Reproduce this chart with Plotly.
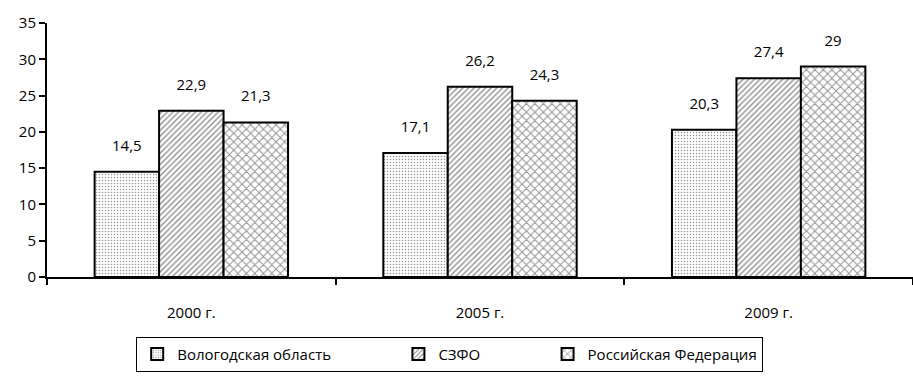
import plotly.graph_objects as go

years = ['2000 г.', '2005 г.', '2009 г.']
vologda = [14.5, 17.1, 20.3]
szfo = [22.9, 26.2, 27.4]
russia = [21.3, 24.3, 29]

series = [
    ('Вологодская область' + '\u00a0' * 16, vologda, '.', 3, 0.2),
    ('СЗФО' + '\u00a0' * 16, szfo, '/', 4, 0.35),
    ('Российская Федерация', russia, 'x', 6, 0.3),
]


def fmt(v):
    s = ('%g' % v)
    return s.replace('.', ',')


fig = go.Figure()
for i, (name, vals, shape, psize, sol) in enumerate(series):
    fig.add_trace(go.Bar(
        x=years,
        y=vals,
        name=name,
        offsetgroup=str(i),
        marker=dict(
            color='white',
            line=dict(color='black', width=2),
            pattern=dict(shape=shape, fgcolor='#222222', bgcolor='white',
                         size=psize, solidity=sol),
        ),
    ))
    # value labels
    fig.add_trace(go.Scatter(
        x=years,
        y=vals,
        offsetgroup=str(i),
        mode='markers+text',
        text=[fmt(v) for v in vals],
        textposition='top center',
        textfont=dict(size=15, color='black'),
        marker=dict(size=26, opacity=0),
        showlegend=False,
        hoverinfo='skip',
        cliponaxis=False,
    ))

fig.update_layout(
    width=913, height=392,
    margin=dict(l=47, r=0, t=23, b=115, autoexpand=False),
    barmode='group',
    scattermode='group',
    bargap=0.33,
    bargroupgap=0,
    plot_bgcolor='white',
    paper_bgcolor='white',
    font=dict(family='Open Sans, Noto Sans, sans-serif', size=15, color='black'),
    showlegend=True,
    legend=dict(
        orientation='h',
        x=0.465, xanchor='center',
        y=-0.235, yanchor='top',
        bordercolor='black', borderwidth=1,
        font=dict(size=15),
        itemwidth=30,
        traceorder='normal',
    ),
)
fig.update_yaxes(
    range=[0, 35], dtick=5,
    showline=True, linecolor='black', linewidth=2,
    ticks='outside', ticklen=6, tickcolor='black', tickwidth=2,
    showgrid=False, zeroline=False, automargin=False,
)
fig.update_xaxes(
    showline=True, linecolor='black', linewidth=2,
    ticks='outside', ticklen=6, tickcolor='black', tickwidth=2,
    tickson='boundaries', ticklabelstandoff=21,
    showgrid=False, automargin=False,
)

fig.write_html("out.html", config={'displayModeBar': False},
               post_script="document.body.style.margin='0';")
